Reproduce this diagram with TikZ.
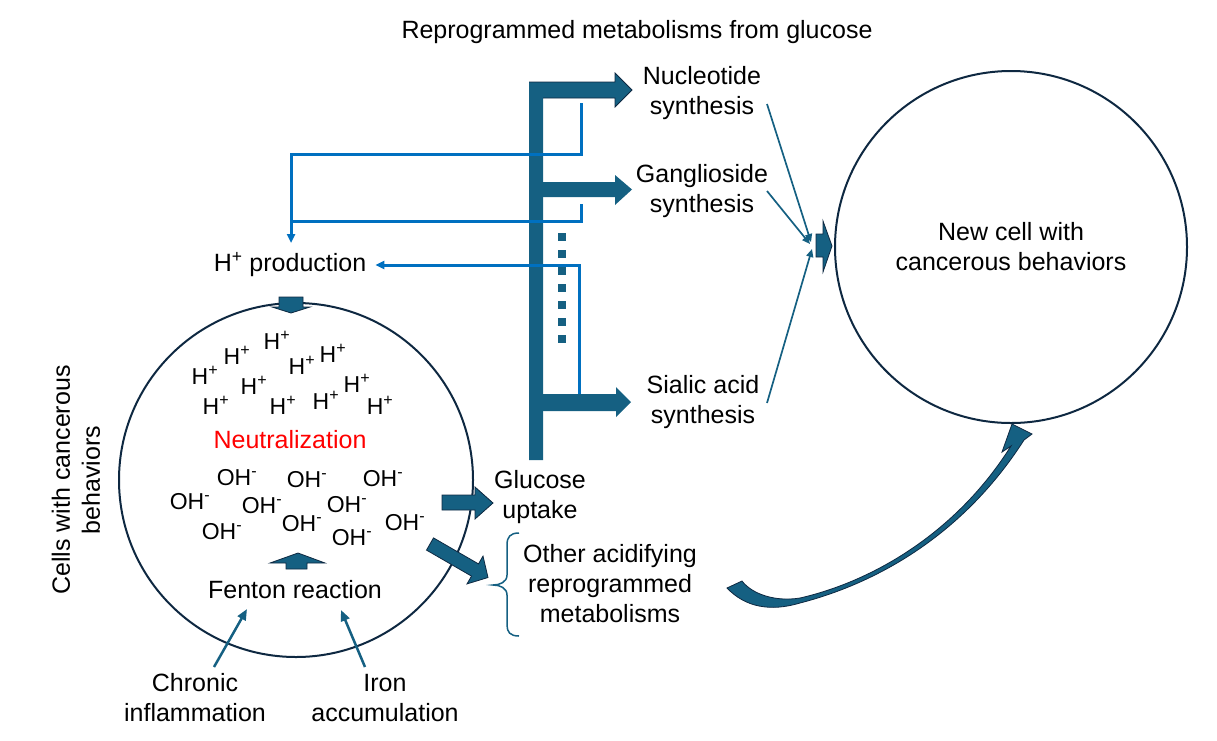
\documentclass[tikz,border=0pt]{standalone}
\usepackage{fontspec}
\setmainfont{Liberation Sans}
\usetikzlibrary{arrows.meta}
\definecolor{teal1}{HTML}{156082}
\definecolor{navy}{HTML}{0E2841}
\definecolor{blu}{HTML}{0070C0}
\begin{document}
\begin{tikzpicture}[x=1pt,y=-1pt,
  lbl/.style={inner sep=0pt, align=center, font=\fontsize{25}{30}\selectfont},
  ion/.style={inner sep=0pt, font=\fontsize{23}{27}\selectfont},
  blockarrow/.style={fill=teal1, draw=navy, line width=0.8pt, line join=miter},
  thinarrow/.style={draw=teal1, line width=1.7pt, -{Triangle[length=8pt,width=7pt]}},
  bluel/.style={draw=blu, line width=3pt, line join=miter},
  bluearrow/.style={bluel, -{Triangle[length=9pt,width=8pt]}},
  cell/.style={draw=navy, line width=2pt, circle, inner sep=0pt, outer sep=0pt}]
\useasboundingbox (0,0) rectangle (1217,740);

% cells
\node[cell, minimum size=354pt] (cellL) at (296,480) {};
\node[cell, minimum size=352pt, lbl] (cellR) at (1011,247) {New cell with\\cancerous behaviors};

% texts
\node[lbl] (title) at (637,32) {Reprogrammed metabolisms from glucose};
\node[lbl] (nuc) at (702,93) {Nucleotide\\synthesis};
\node[lbl] (gang) at (702,191) {Ganglioside\\synthesis};
\node[lbl] (sial) at (703,402) {Sialic acid\\synthesis};
\node[lbl] (hprod) at (290,265) {H\textsuperscript{+} production};
\node[lbl] (glu) at (540,497) {Glucose\\uptake};
\node[lbl] (other) at (610,584) {Other acidifying\\reprogrammed\\metabolisms};
\node[lbl] (fenton) at (295,590) {Fenton reaction};
\node[lbl, text=red] (neutral) at (290,440) {Neutralization};
\node[lbl] (chronic) at (195,698) {Chronic\\inflammation};
\node[lbl] (iron) at (385,698) {Iron\\accumulation};
\node[lbl, rotate=90] (cells) at (76,480) {Cells with cancerous\\behaviors};

% ions
\foreach \p [count=\i] in {(277,340),(237,355),(205,375),(302,365),(333,353),(254,385),(357,383),(216,405),(283,405),(326,400),(380,405)}
  \node[ion] (h\i) at \p {H\textsuperscript{+}};
\foreach \p [count=\i] in {(237,478),(307,480),(383,479),(190,502),(262,506),(347,505),(222,532),(302,524),(352,538),(405,523)}
  \node[ion] (oh\i) at \p {OH\textsuperscript{-}};

% trunk and branch arrows
\fill[teal1] (529,82) -- (615,82) -- (615,73) -- (632,90) -- (615,107) -- (615,98) -- (543,98) -- (543,460) -- (529,460) -- cycle;
\draw[navy, line width=0.8pt, line join=miter] (529,82) -- (615,82) -- (615,73) -- (632,90) -- (615,107) -- (615,98) -- (543,98);
\fill[teal1] (543,182) -- (615,182) -- (615,175) -- (632,189.5) -- (615,205) -- (615,197) -- (543,197) -- cycle;
\fill[teal1] (543,394) -- (616,394) -- (616,387) -- (631,402) -- (616,417) -- (616,411) -- (543,411) -- cycle;
\foreach \y in {233,250,267,284,301,318,335}
  \fill[teal1] (558,\y) rectangle (566,\y+8);

% blue feedback lines
\coordinate (b1s) at (581,103);
\coordinate (b2s) at (581,204);
\coordinate (b3s) at (579,394);
\coordinate (hin) at (291,243);
\draw[bluearrow] (b1s) -- (581,154) -- (291,154) -- (hin);
\draw[bluel] (b2s) -- (581,221) -- (291,221);
\draw[bluearrow] (b3s) -- (579,265) -- ([xshift=9pt]hprod.east);

% converging thin arrows
\coordinate (n1) at (767,104);
\coordinate (g1) at (767,191);
\coordinate (s1) at (767,403);
\draw[thinarrow] (n1) -- (811,242);
\draw[thinarrow] (g1) -- (810,244);
\draw[thinarrow] (s1) -- (812,249);

% block arrows
\draw[blockarrow] (816,234) -- (823,234) -- (823,221) -- (832,246) -- (823,272) -- (823,257) -- (816,257) -- cycle;
\draw[blockarrow] (279,297) -- (303,297) -- (303,307) -- (310,307) -- (291,313) -- (272,307) -- (279,307) -- cycle;
\draw[blockarrow] (286,569) -- (286,563) -- (270,563) -- (298,553) -- (325,563) -- (307,563) -- (307,569) -- cycle;
\draw[blockarrow] (442,495) -- (475,495) -- (475,487) -- (493,503) -- (475,519) -- (475,510) -- (442,510) -- cycle;
\draw[blockarrow] (433.5,537.9) -- (478.5,563.9) -- (483,556.1) -- (488,577.5) -- (467,583.9) -- (471.5,576.1) -- (426.5,550.1) -- cycle;

% Chronic / Iron arrows
\coordinate (c1) at (214,667);
\coordinate (i1) at (365,667);
\draw[teal1, line width=2.5pt, -{Triangle[length=11pt,width=9pt]}] (c1) -- (247,609);
\draw[teal1, line width=2.5pt, -{Triangle[length=11pt,width=9pt]}] (i1) -- (341,610);

% brace
\draw[teal1, line width=1.5pt] (519,533) .. controls (510,533) and (507,537) .. (507,545) -- (507,575) .. controls (507,582) and (500,585) .. (493,585) .. controls (500,585) and (507,588) .. (507,595) -- (507,625) .. controls (507,632) and (510,636) .. (519,636);

% curved arrow
\draw[fill=teal1, draw=navy, line width=0.8pt, line join=miter]
  (727,588) .. controls (745,607) and (770,612) .. (800,603)
  .. controls (870,585) and (960,540) .. (1024,440)
  -- (1032,434) -- (1012,424) -- (1002,452) -- (1011,446)
  .. controls (955,535) and (870,582) .. (800,598)
  .. controls (775,602) and (752,594) .. (742,581) -- cycle;
\end{tikzpicture}
\end{document}
